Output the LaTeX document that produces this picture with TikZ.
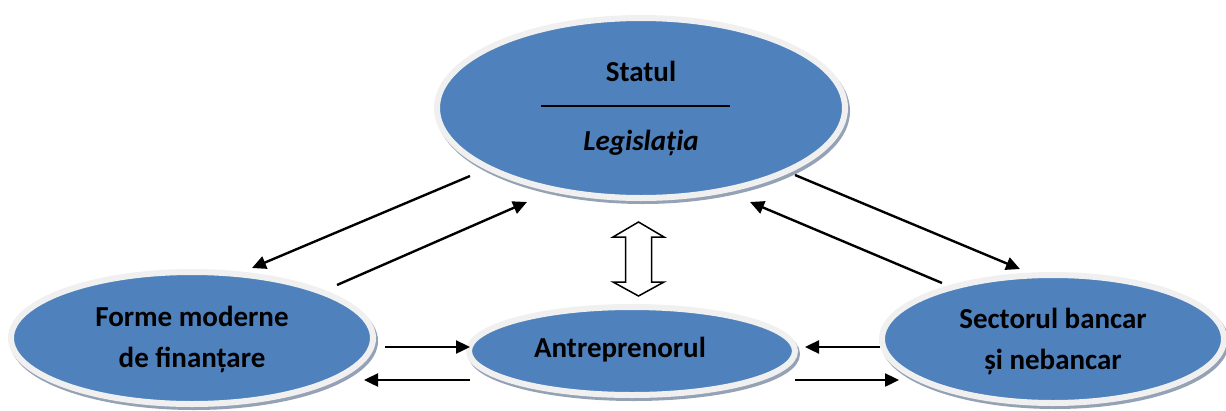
\documentclass[tikz,border=0pt]{standalone}
\usepackage{fontspec}
\setmainfont{Carlito}
\usetikzlibrary{shapes.geometric,arrows.meta,calc}
\definecolor{ellblue}{HTML}{4F81BD}
\definecolor{rim}{HTML}{F0F0F0}
\definecolor{shade}{HTML}{95A2B5}
\tikzset{
  ell/.style={ellipse, fill=ellblue, draw=rim, line width=6pt, inner sep=0pt},
  ellshadow/.style={ellipse, fill=shade, draw=shade, line width=6pt, inner sep=0pt},
  lbl/.style={font=\fontsize{29}{41}\selectfont\bfseries, text=black, align=center, inner sep=0pt},
  conn/.style={line width=2.4pt, -{Triangle[length=14pt,width=13pt]}},
}
\begin{document}
\begin{tikzpicture}[x=1pt,y=-1pt]
\useasboundingbox (0,0) rectangle (1226,410);
% shadows
\node[ellshadow, minimum width=408, minimum height=180] at (643,111) {};
\node[ellshadow, minimum width=362, minimum height=132] at (194,341) {};
\node[ellshadow, minimum width=342, minimum height=128] at (1055,342) {};
\node[ellshadow, minimum width=326, minimum height=88] at (634,354) {};
% ellipses
\node[ell, minimum width=408, minimum height=180] (stat) at (641,108) {};
\node[ell, minimum width=362, minimum height=132] (forme) at (192,338) {};
\node[ell, minimum width=342, minimum height=128] (sect) at (1053,339) {};
\node[ell, minimum width=326, minimum height=88] (antr) at (632,351) {};
% texts
\node[lbl, anchor=base] (tstat) at (641,81) {Statul};
\node[lbl, anchor=base] (tleg) at (641,150) {\itshape Legislația};
\coordinate (barL) at (541,106);
\coordinate (barR) at (730,106);
\draw[line width=1.4pt] (barL) -- (barR);
\node[lbl] (tforme) at (192,339) {Forme moderne\\de finanțare};
\node[lbl] (tsect) at (1053,341) {Sectorul bancar\\și nebancar};
\node[lbl, anchor=base] (tantr) at (620,357) {Antreprenorul};
% arrow endpoints
\coordinate (a1s) at (470,176); \coordinate (a1e) at (252,268);
\coordinate (a2s) at (337,285); \coordinate (a2e) at (527,202);
\coordinate (a3s) at (795,175); \coordinate (a3e) at (1020,269);
\coordinate (a4s) at (942,283); \coordinate (a4e) at (750,202);
\coordinate (h1s) at (385,347); \coordinate (h1e) at (470,347);
\coordinate (h2s) at (470,380); \coordinate (h2e) at (364,380);
\coordinate (h3s) at (880,347); \coordinate (h3e) at (805,347);
\coordinate (h4s) at (795,380); \coordinate (h4e) at (899,380);
\draw[conn] (a1s) -- (a1e);
\draw[conn] (a2s) -- (a2e);
\draw[conn] (a3s) -- (a3e);
\draw[conn] (a4s) -- (a4e);
\draw[conn] (h1s) -- (h1e);
\draw[conn] (h2s) -- (h2e);
\draw[conn] (h3s) -- (h3e);
\draw[conn] (h4s) -- (h4e);
% double arrow between Statul and Antreprenorul
\draw[line width=1.5pt, fill=white, line join=miter]
  (638.5,222) -- (664,237) -- (651.5,237) -- (651.5,282) -- (664,282)
  -- (638.5,296) -- (613,282) -- (625.5,282) -- (625.5,237) -- (613,237) -- cycle;
\end{tikzpicture}
\end{document}
